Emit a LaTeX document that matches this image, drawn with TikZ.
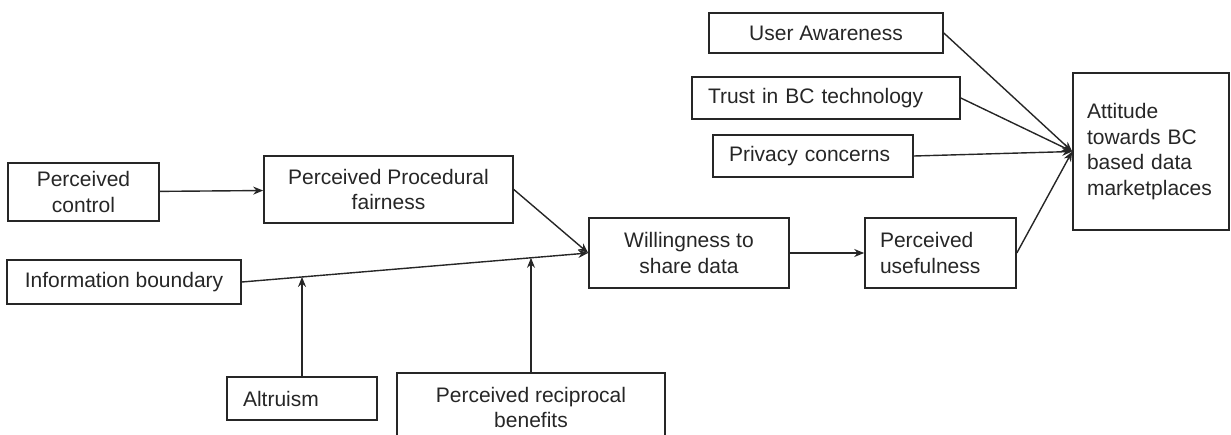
\documentclass[tikz,border=0pt]{standalone}
\usepackage{fontspec}
\setmainfont{Liberation Sans}
\usetikzlibrary{arrows.meta, positioning}

\begin{document}
\begin{tikzpicture}[
    x=0.5pt, y=-0.5pt,
    >={Stealth[length=5pt, width=4pt]},
    factor/.style={rectangle, draw=black!85, line width=0.8pt, inner sep=0pt, align=center, text=black!85, font=\fontsize{10.5}{12.8}\selectfont},
    lfactor/.style={factor, align=left, inner xsep=8pt, text width=#1},
    link/.style={->, line width=0.7pt, black!85}
  ]
    \useasboundingbox (0,0) rectangle (1231,434);

    % left side: what drives willingness to share
    \node[factor, minimum width=75.5pt, minimum height=29pt] (control) at (83.5,192) {Perceived\\control};
    \node[factor, minimum width=124.5pt, minimum height=33.5pt] (fairness) at (388.5,189.5) {Perceived Procedural\\fairness};
    \node[factor, minimum width=117pt, minimum height=22pt] (boundary) at (124,282) {Information boundary};
    \node[lfactor=59pt, minimum height=21.5pt] (altruism) at (302,398.5) {Altruism};
    \node[factor, minimum width=134pt, minimum height=34.5pt] (reciprocal) at (531,407.5) {Perceived reciprocal\\benefits};

    \node[factor, minimum width=100pt, minimum height=35pt] (willing) at (689,253) {Willingness to\\share data};
    \node[lfactor=60.5pt, inner xsep=7.5pt, minimum height=35pt] (useful) at (940.5,253) {Perceived\\usefulness};

    % right side: attitude and its direct factors
    \node[factor, minimum width=117pt, minimum height=20pt] (aware) at (826,33) {User Awareness};
    \node[lfactor=118pt, minimum height=21pt] (trust) at (826,98) {Trust in BC technology};
    \node[lfactor=84pt, minimum height=21pt] (privacy) at (813,156) {Privacy concerns};
    \node[lfactor=64pt, inner xsep=7pt, minimum height=78.5pt] (attitude) at (1151,151.5) {Attitude\\towards BC\\based data\\marketplaces};

    \draw[link] (control) -- (fairness);
    \draw[link] (fairness.east) -- (willing.west);
    \draw[link] (boundary.east) -- (willing.west);

    % moderators meet the boundary line
    \path (boundary.east) -- (willing.west)
      coordinate[pos=0.175] (altmeet)
      coordinate[pos=0.833] (recmeet);
    \draw[link] (altruism.north) -- (altruism.north |- altmeet);
    \draw[link] (reciprocal.north) -- (reciprocal.north |- recmeet);

    \draw[link] (willing) -- (useful);
    \foreach \src in {aware, trust, privacy, useful}
      \draw[link] (\src.east) -- (attitude.west);
\end{tikzpicture}
\end{document}
